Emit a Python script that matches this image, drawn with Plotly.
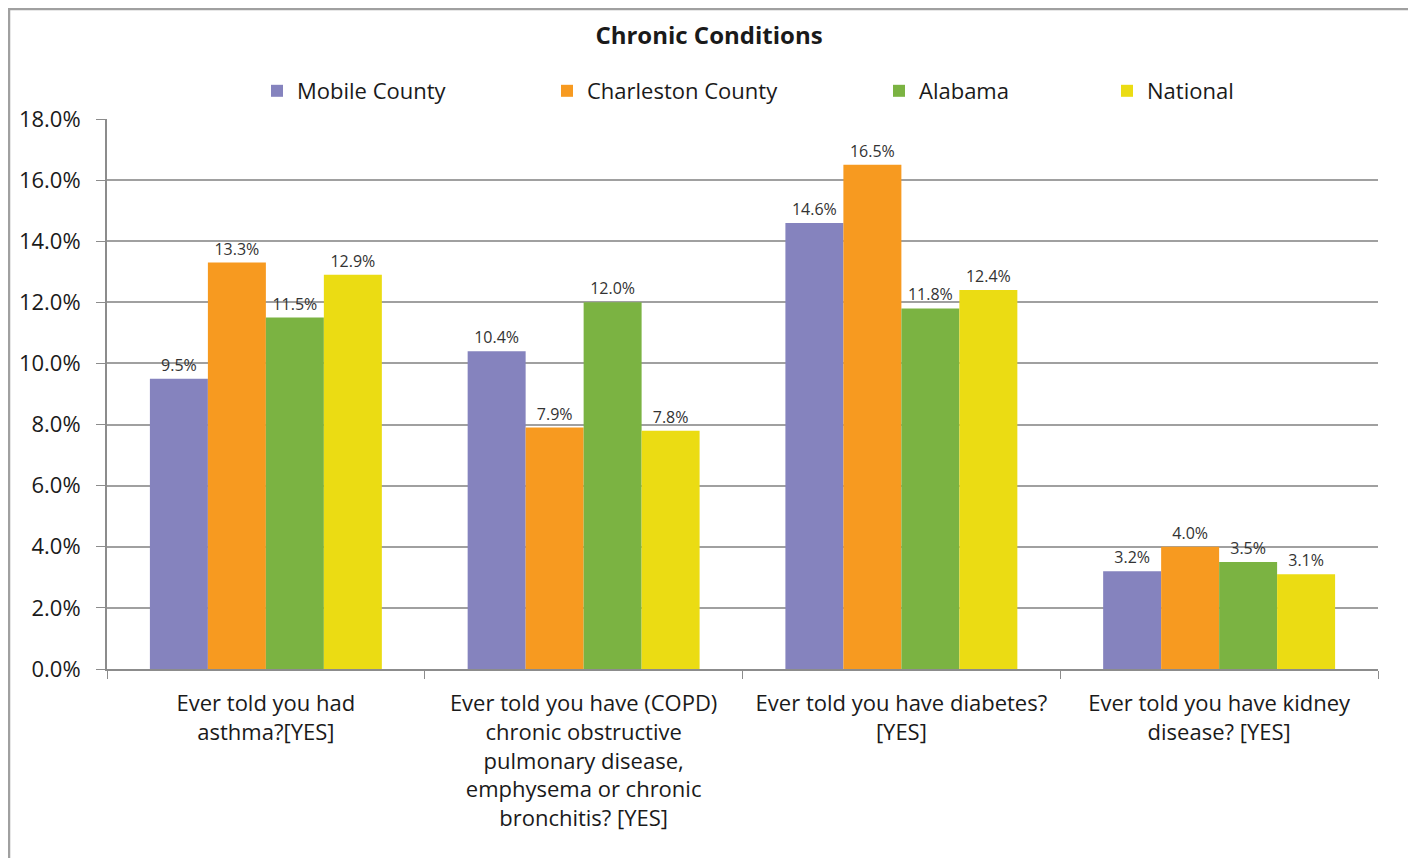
import plotly.graph_objects as go

categories = [
    "Ever told you had<br>asthma?[YES]",
    "Ever told you have (COPD)<br>chronic obstructive<br>pulmonary disease,<br>emphysema or chronic<br>bronchitis? [YES]",
    "Ever told you have diabetes?<br>[YES]",
    "Ever told you have kidney<br>disease? [YES]",
]
series_names = ["Mobile County", "Charleston County", "Alabama", "National"]
mobile = [9.5, 10.4, 14.6, 3.2]
charleston = [13.3, 7.9, 16.5, 4.0]
alabama = [11.5, 12.0, 11.8, 3.5]
national = [12.9, 7.8, 12.4, 3.1]
colors = ["#8583BE", "#F79A20", "#7BB342", "#EBDC13"]
y_ticks = [0, 2, 4, 6, 8, 10, 12, 14, 16, 18]
y_tick_text = [f"{v:.1f}%" for v in y_ticks]

OFF = 8  # page body margin
W, H = 1416 - OFF, 858 - OFF
L, R, T, B = 107 - OFF, 38, 119 - OFF, 189
pw, ph = W - L - R, H - T - B

def px_x(x):
    return (x - OFF - L) / pw

def px_y(y):
    return (H - B - (y - OFF)) / ph

font_family = "Open Sans, Noto Sans, sans-serif"

legend_ids = ["legend", "legend2", "legend3", "legend4"]
legend_x = [257, 547, 879, 1107]

fig = go.Figure()
for name, vals, col, lid in zip(series_names, [mobile, charleston, alabama, national], colors, legend_ids):
    fig.add_trace(go.Bar(
        x=categories, y=vals, name=name, legend=lid,
        marker=dict(color=col, line=dict(width=0)),
        texttemplate="%{y:.1f}%", textposition="outside",
        textfont=dict(size=16, color="#333333", family=font_family),
        cliponaxis=False,
    ))

layout_legends = {}
for lid, lx in zip(legend_ids, legend_x):
    layout_legends[lid] = dict(
        orientation="h", x=px_x(lx), xanchor="left", y=px_y(91), yanchor="middle",
        font=dict(size=22, color="#1a1a1a", family=font_family),
        itemwidth=30, bgcolor="rgba(0,0,0,0)",
    )

fig.update_layout(
    width=W, height=H,
    margin=dict(l=L, r=R, t=T, b=B),
    paper_bgcolor="white", plot_bgcolor="white",
    barmode="group", bargap=0.27, bargroupgap=0,
    font=dict(family=font_family, color="#1a1a1a"),
    title=dict(text="<b>Chronic Conditions</b>", x=(709 - OFF) / W, xref="container", xanchor="center",
               y=1 - (36 - OFF) / H, yanchor="middle",
               font=dict(size=24, color="#1a1a1a", family=font_family)),
    showlegend=True,
    **layout_legends,
)
fig.update_yaxes(
    range=[0, 18], tickvals=y_ticks, ticktext=y_tick_text,
    showgrid=True, gridcolor="#A0A0A0", gridwidth=1.5,
    showline=True, linecolor="#8C8C8C", linewidth=2,
    ticks="outside", ticklen=9, tickcolor="#8C8C8C", ticklabelstandoff=11,
    tickfont=dict(size=22, color="#1a1a1a", family=font_family),
    zeroline=False,
)
fig.update_xaxes(
    showline=True, linecolor="#8C8C8C", linewidth=2,
    ticks="outside", ticklen=8, tickcolor="#8C8C8C", tickson="boundaries",
    ticklabelstandoff=14,
    tickfont=dict(size=22, color="#1a1a1a", family=font_family),
)
fig.add_shape(type="rect", xref="paper", yref="paper",
              x0=px_x(9), x1=px_x(1410), y0=px_y(880), y1=px_y(9),
              line=dict(color="#A0A0A0", width=2.5), fillcolor="rgba(0,0,0,0)", layer="below")

fig.write_html("out.html")
